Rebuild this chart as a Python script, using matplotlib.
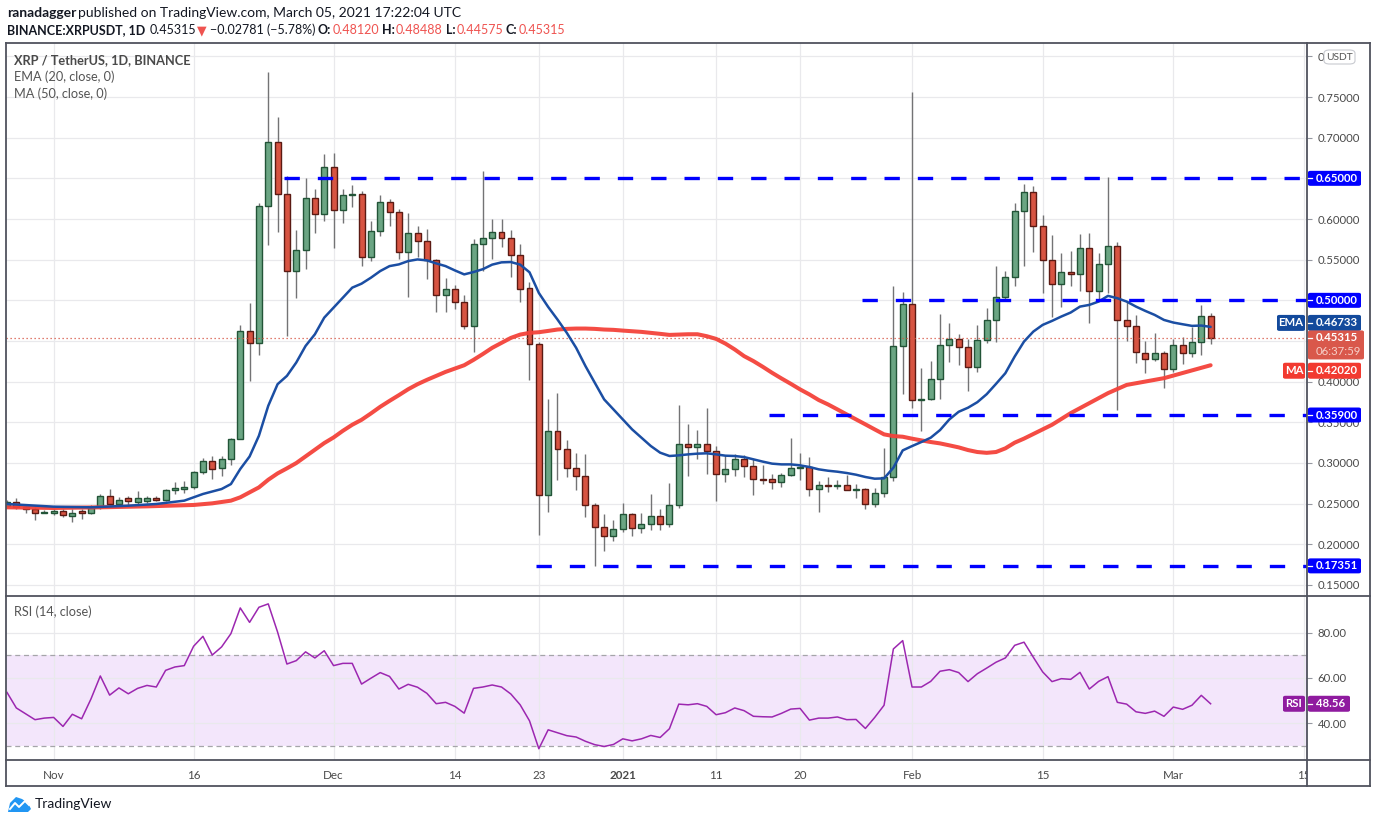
import matplotlib
matplotlib.use("Agg")
import matplotlib.pyplot as plt
from matplotlib.lines import Line2D
from matplotlib.patches import Rectangle, Polygon, FancyBboxPatch
from matplotlib.ticker import FuncFormatter
import numpy as np

plt.rcParams['font.family'] = ['Lato', 'DejaVu Sans']

# ---------------- data ----------------
opens = [0.2475, 0.2525, 0.2460, 0.2430, 0.2390, 0.2390, 0.2410, 0.2350, 0.2405, 0.2385,
         0.2455, 0.2590, 0.2490, 0.2570, 0.2516, 0.2533, 0.2565, 0.2545, 0.2665, 0.2680,
         0.2705, 0.2885, 0.3030, 0.2935, 0.3045, 0.3300, 0.4625, 0.4475, 0.6160, 0.6950,
         0.6305, 0.5364, 0.5622, 0.6260, 0.6064, 0.6640, 0.6110, 0.6297, 0.6310, 0.5536,
         0.5855, 0.6211, 0.6088, 0.5597, 0.5831, 0.5732, 0.5490, 0.5070, 0.5143, 0.4984,
         0.4689, 0.5696, 0.5766, 0.5840, 0.5766, 0.5561, 0.5152, 0.4465, 0.2603, 0.3389,
         0.3176, 0.2943, 0.2840, 0.2484, 0.2219, 0.2104, 0.2194, 0.2378, 0.2206, 0.2255,
         0.2353, 0.2255, 0.2489, 0.3237, 0.3196, 0.3237, 0.3151, 0.2869, 0.2922, 0.3053,
         0.2963, 0.2799, 0.2799, 0.2770, 0.2856, 0.2940, 0.2955, 0.2684, 0.2725, 0.2720,
         0.2733, 0.2672, 0.2684, 0.2500, 0.2635, 0.2832, 0.4437, 0.4957, 0.3780, 0.3793,
         0.4028, 0.4453, 0.4527, 0.4429, 0.4178, 0.4510, 0.4756, 0.5038, 0.5284, 0.6095,
         0.6328, 0.5918, 0.5497, 0.5198, 0.5345, 0.5320, 0.5640, 0.5112, 0.5443, 0.5665,
         0.4756, 0.4682, 0.4350, 0.4276, 0.4350, 0.4154, 0.4448, 0.4350, 0.4485, 0.48120]
highs = [0.2550, 0.2565, 0.2475, 0.2455, 0.2420, 0.2430, 0.2440, 0.2440, 0.2435, 0.2484,
         0.2620, 0.2680, 0.2580, 0.2600, 0.2655, 0.2600, 0.2590, 0.2680, 0.2770, 0.2780,
         0.2905, 0.3065, 0.3090, 0.3090, 0.3310, 0.4700, 0.4970, 0.6200, 0.7810, 0.7255,
         0.6526, 0.5870, 0.6498, 0.6375, 0.6804, 0.6817, 0.6375, 0.6424, 0.6350, 0.5970,
         0.6289, 0.6252, 0.6117, 0.6068, 0.5908, 0.5880, 0.5510, 0.5278, 0.5192, 0.5070,
         0.5757, 0.6596, 0.6000, 0.6000, 0.5868, 0.5696, 0.5230, 0.4485, 0.3782, 0.3855,
         0.3278, 0.3119, 0.3106, 0.2513, 0.2370, 0.2296, 0.2505, 0.2390, 0.2390, 0.2615,
         0.2431, 0.2750, 0.3708, 0.3475, 0.3401, 0.3679, 0.3209, 0.3102, 0.3106, 0.3094,
         0.3045, 0.2971, 0.2860, 0.2880, 0.3303, 0.3118, 0.3077, 0.2778, 0.2832, 0.2787,
         0.2848, 0.2737, 0.2690, 0.2697, 0.3180, 0.5182, 0.5108, 0.7566, 0.4169, 0.4259,
         0.4826, 0.4724, 0.4580, 0.4519, 0.4698, 0.4903, 0.5423, 0.5362, 0.6201, 0.6430,
         0.6406, 0.6050, 0.5804, 0.5583, 0.5611, 0.5816, 0.5828, 0.5579, 0.6520, 0.5718,
         0.4985, 0.4821, 0.4502, 0.4596, 0.4383, 0.4530, 0.4547, 0.4678, 0.4940, 0.48488]
lows = [0.2460, 0.2435, 0.2390, 0.2300, 0.2385, 0.2360, 0.2330, 0.2280, 0.2312, 0.2370,
        0.2440, 0.2475, 0.2475, 0.2480, 0.2480, 0.2510, 0.2530, 0.2530, 0.2615, 0.2630,
        0.2680, 0.2870, 0.2805, 0.2840, 0.2970, 0.3290, 0.4010, 0.4330, 0.5680, 0.5840,
        0.4562, 0.5025, 0.5380, 0.5827, 0.5980, 0.5642, 0.5953, 0.6150, 0.5420, 0.5483,
        0.5790, 0.5912, 0.5503, 0.5041, 0.5532, 0.5258, 0.4860, 0.4860, 0.4890, 0.4652,
        0.4366, 0.5364, 0.5510, 0.5650, 0.5287, 0.4976, 0.4015, 0.2116, 0.2399, 0.2791,
        0.2828, 0.2664, 0.2337, 0.1736, 0.1920, 0.2043, 0.2153, 0.2104, 0.2145, 0.2178,
        0.2178, 0.2219, 0.2452, 0.2840, 0.3053, 0.2869, 0.2533, 0.2771, 0.2840, 0.2828,
        0.2607, 0.2746, 0.2684, 0.2709, 0.2840, 0.2791, 0.2594, 0.2398, 0.2643, 0.2684,
        0.2672, 0.2570, 0.2431, 0.2459, 0.2586, 0.2778, 0.3851, 0.3678, 0.3393, 0.3780,
        0.3782, 0.4240, 0.4199, 0.3888, 0.4113, 0.4481, 0.4493, 0.5000, 0.5177, 0.5423,
        0.5595, 0.5087, 0.4800, 0.4923, 0.5177, 0.5120, 0.4719, 0.5014, 0.5087, 0.3646,
        0.4506, 0.4235, 0.4104, 0.4260, 0.3916, 0.4113, 0.4219, 0.4301, 0.4330, 0.44575]
closes = [0.2525, 0.2455, 0.2430, 0.2390, 0.2395, 0.2410, 0.2355, 0.2390, 0.2385, 0.2455,
          0.2590, 0.2490, 0.2540, 0.2535, 0.2575, 0.2565, 0.2545, 0.2665, 0.2690, 0.2705,
          0.2885, 0.3030, 0.2925, 0.3045, 0.3300, 0.4625, 0.4475, 0.6160, 0.6950, 0.6305,
          0.5364, 0.5622, 0.6260, 0.6064, 0.6640, 0.6110, 0.6297, 0.6305, 0.5536, 0.5855,
          0.6211, 0.6088, 0.5597, 0.5831, 0.5732, 0.5499, 0.5070, 0.5143, 0.4984, 0.4689,
          0.5696, 0.5769, 0.5840, 0.5766, 0.5561, 0.5140, 0.4465, 0.2603, 0.3389, 0.3176,
          0.2943, 0.2840, 0.2484, 0.2219, 0.2104, 0.2194, 0.2378, 0.2206, 0.2255, 0.2353,
          0.2255, 0.2489, 0.3237, 0.3196, 0.3237, 0.3151, 0.2869, 0.2930, 0.3053, 0.2963,
          0.2799, 0.2795, 0.2770, 0.2856, 0.2942, 0.2955, 0.2684, 0.2725, 0.2720, 0.2733,
          0.2672, 0.2684, 0.2500, 0.2635, 0.2832, 0.4437, 0.4957, 0.3780, 0.3793, 0.4028,
          0.4453, 0.4527, 0.4429, 0.4183, 0.4510, 0.4756, 0.5038, 0.5284, 0.6095, 0.6328,
          0.5918, 0.5497, 0.5198, 0.5345, 0.5320, 0.5640, 0.5112, 0.5443, 0.5665, 0.4756,
          0.4682, 0.4362, 0.4276, 0.4350, 0.4154, 0.4448, 0.4350, 0.4485, 0.4805, 0.45315]

ema_idx = [0, 5, 9, 13, 16, 19, 21, 23, 24, 25] + list(range(26, 130))
ema_val = [0.2496, 0.2463, 0.2455, 0.2475, 0.2496, 0.2537, 0.2619, 0.2680, 0.2741, 0.2926,
           0.3080, 0.3335, 0.3703, 0.3969, 0.4071, 0.4235, 0.4439, 0.4583, 0.4787, 0.4910,
           0.5033, 0.5156, 0.5205, 0.5278, 0.5360, 0.5421, 0.5442, 0.5483, 0.5503, 0.5491,
           0.5454, 0.5421, 0.5368, 0.5319, 0.5348, 0.5383, 0.5439, 0.5467, 0.5471, 0.5439,
           0.5345, 0.5091, 0.4919, 0.4764, 0.4600, 0.4416, 0.4191, 0.3986, 0.3782, 0.3659,
           0.3536, 0.3413, 0.3311, 0.3209, 0.3127, 0.3086, 0.3094, 0.3106, 0.3115, 0.3119,
           0.3106, 0.3090, 0.3086, 0.3073, 0.3045, 0.3017, 0.2992, 0.2983, 0.2983, 0.2971,
           0.2951, 0.2922, 0.2905, 0.2893, 0.2877, 0.2856, 0.2828, 0.2807, 0.2811, 0.2942,
           0.3155, 0.3208, 0.3258, 0.3311, 0.3405, 0.3536, 0.3630, 0.3680, 0.3748, 0.3846,
           0.3973, 0.4104, 0.4309, 0.4493, 0.4616, 0.4698, 0.4747, 0.4801, 0.4850, 0.4923,
           0.4944, 0.4985, 0.5055, 0.5026, 0.4985, 0.4923, 0.4870, 0.4821, 0.4759, 0.4727,
           0.4706, 0.4686, 0.4690, 0.46733]

ma_idx = [0, 5, 10, 15, 20, 22, 24, 25] + list(range(26, 104)) + [104, 105, 106, 107, 108, 109, 112, 114, 118, 120, 124, 129]
ma_val = [0.2455, 0.2447, 0.2455, 0.2467, 0.2484, 0.2504, 0.2537, 0.2578,
          0.2639, 0.2700, 0.2794, 0.2872, 0.2934, 0.2999, 0.3081, 0.3163, 0.3245, 0.3314,
          0.3396, 0.3470, 0.3531, 0.3609, 0.3691, 0.3764, 0.3834, 0.3907, 0.3969, 0.4022,
          0.4071, 0.4120, 0.4161, 0.4202, 0.4268, 0.4340, 0.4416, 0.4477, 0.4538, 0.4579,
          0.4600, 0.4608, 0.4624, 0.4641, 0.4649, 0.4653, 0.4653, 0.4649, 0.4641, 0.4637,
          0.4628, 0.4620, 0.4612, 0.4600, 0.4588, 0.4575, 0.4579, 0.4583, 0.4583, 0.4559,
          0.4526, 0.4468, 0.4396, 0.4314, 0.4253, 0.4183, 0.4109, 0.4040, 0.3974, 0.3905,
          0.3843, 0.3774, 0.3720, 0.3659, 0.3597, 0.3536, 0.3475, 0.3413, 0.3352, 0.3331,
          0.3323, 0.3299, 0.3278, 0.3258, 0.3241, 0.3217, 0.3192, 0.3159,
          0.3135, 0.3125, 0.3135, 0.3180, 0.3250, 0.3300, 0.3470, 0.3613, 0.3859, 0.3960,
          0.4043, 0.42020]

rsi = [53.6, 46.7, 44.1, 41.5, 42.2, 42.5, 38.5, 43.9, 41.9, 50.7,
       60.9, 52.4, 55.6, 53.0, 55.4, 56.7, 56.0, 63.4, 64.9, 65.5,
       74.1, 78.5, 70.2, 73.8, 79.7, 91.1, 84.7, 91.4, 92.9, 80.4,
       66.2, 67.7, 71.6, 68.9, 72.1, 65.5, 66.5, 66.5, 57.3, 59.9,
       62.4, 60.7, 55.1, 57.2, 55.9, 53.2, 48.6, 49.2, 47.4, 44.4,
       55.4, 56.0, 56.9, 56.0, 52.9, 48.1, 41.0, 28.6, 37.0, 35.7,
       34.4, 33.8, 31.9, 30.4, 29.6, 30.5, 33.0, 32.1, 33.0, 34.5,
       33.6, 37.5, 48.4, 48.1, 48.6, 47.4, 43.7, 44.6, 46.7, 45.5,
       43.0, 42.8, 42.7, 44.3, 46.2, 46.5, 41.3, 42.2, 42.2, 42.7,
       41.5, 41.6, 37.6, 42.5, 47.9, 72.9, 76.6, 56.0, 56.0, 58.5,
       63.0, 63.7, 62.4, 58.4, 61.9, 64.4, 67.0, 68.9, 74.5, 75.9,
       69.2, 62.7, 58.4, 59.7, 59.4, 62.5, 55.1, 58.5, 60.6, 49.2,
       48.4, 45.0, 44.3, 45.3, 43.0, 47.1, 46.1, 47.9, 52.3, 48.56]

date_tick_idx = [5, 20, 35, 48, 57, 66, 76, 85, 97, 111, 125, 139]
date_tick_labels = ['Nov', '16', 'Dec', '14', '23', '2021', '11', '20', 'Feb', '15', 'Mar', '15']
price_ticks = [0.15, 0.20, 0.25, 0.30, 0.35, 0.40, 0.45, 0.50, 0.55, 0.60, 0.65, 0.70, 0.75, 0.80]
hidden_price_labels = [0.45, 0.50, 0.65]   # covered by the boxed labels in the reference
rsi_ticks = [40, 60, 80]

level_vals = [0.65, 0.50, 0.359, 0.17351]
level_labels = ['0.65000', '0.50000', '0.35900', '0.17351']
level_start_idx = [30, 92, 82, 57]

last_price = 0.45315
last_ema = 0.46733
last_ma = 0.42020
last_rsi = 48.56

# ---------------- layout ----------------
W, H = 1376, 823
fig = plt.figure(figsize=(W / 100, H / 100), dpi=100)
fig.patch.set_facecolor('white')

L, R = 6, 1307
T1, B1 = 43, 595
T2, B2 = 596, 760
RB = 1370
BB = 786

ax1 = fig.add_axes([L / W, 1 - B1 / H, (R - L) / W, (B1 - T1) / H])
ax2 = fig.add_axes([L / W, 1 - B2 / H, (R - L) / W, (B2 - T2) / H])

XMIN, XMAX = -0.107, 139.33
ax1.set_xlim(XMIN, XMAX)
ax2.set_xlim(XMIN, XMAX)
ax1.set_ylim(0.1377, 0.8164)
ax2.set_ylim(23.6, 96.4)

grid_c = '#e9e9ec'
txt_c = '#4a4a4a'
frame_c = '#50535e'

for ax in (ax1, ax2):
    for s in ax.spines.values():
        s.set_visible(False)
    ax.set_axisbelow(True)
    ax.set_xticks(date_tick_idx)
    ax.grid(True, color=grid_c, lw=0.9)


def price_fmt(v, p):
    if any(abs(v - h) < 1e-6 for h in hidden_price_labels):
        return ''
    if abs(v - 0.80) < 1e-6:
        return '0'          # only the first glyph shows beside the USDT badge
    return f'{v:.5f}'


ax1.set_yticks(price_ticks)
ax1.yaxis.tick_right()
ax1.yaxis.set_major_formatter(FuncFormatter(price_fmt))
ax1.tick_params(axis='y', direction='out', length=3.5, width=0.8, color='#9598a1',
                labelsize=8.2, labelcolor=txt_c, pad=4)
ax1.tick_params(axis='x', length=0, labelbottom=False)

# candles
idx = np.arange(len(opens))
o = np.array(opens); c = np.array(closes); hi = np.array(highs); lo = np.array(lows)
up = c >= o
ax1.vlines(idx, lo, hi, color='#737375', lw=1.0, zorder=2)
body_w = 0.64
bottoms = np.minimum(o, c)
heights = np.maximum(np.abs(c - o), 0.0006)
ax1.bar(idx[up], heights[up], bottom=bottoms[up], width=body_w,
        color='#6ba583', edgecolor='#225437', linewidth=1.0, zorder=3)
ax1.bar(idx[~up], heights[~up], bottom=bottoms[~up], width=body_w,
        color='#d75442', edgecolor='#5b1a13', linewidth=1.0, zorder=3)

# moving averages
ax1.plot(ma_idx, ma_val, color='#f4423a', lw=2.9, zorder=4, solid_capstyle='round', alpha=0.95)
ax1.plot(ema_idx, ema_val, color='#1b4ea3', lw=1.8, zorder=5, solid_capstyle='round')

# last price dotted line
ax1.axhline(last_price, color='#d75442', lw=0.9, ls=(0, (1, 2.2)), zorder=4)

# horizontal dashed levels
for v, s in zip(level_vals, level_start_idx):
    ax1.plot([s - 0.35, XMAX], [v, v], color='#0000ff', lw=2.4, dashes=(4.6, 5.4), zorder=6,
             solid_capstyle='butt', dash_capstyle='butt')

# legend texts
fig.text(14 / W, 1 - 60 / H, 'XRP / TetherUS, 1D, BINANCE', fontsize=9.2, color='#4a4a4a',
         fontweight='bold', va='center', ha='left')
fig.text(14 / W, 1 - 77 / H, 'EMA (20, close, 0)', fontsize=9.2, color='#555555', va='center', ha='left')
fig.text(14 / W, 1 - 94 / H, 'MA (50, close, 0)', fontsize=9.2, color='#555555', va='center', ha='left')

# RSI pane
ax2.axhspan(30, 70, color='#f3e6fb', zorder=0.5, lw=0)
ax2.axhline(70, color='#a5a5a9', lw=0.9, dashes=(4, 3), zorder=1)
ax2.axhline(30, color='#a5a5a9', lw=0.9, dashes=(4, 3), zorder=1)
ax2.plot(idx, rsi, color='#9c27b0', lw=1.1, zorder=3)
ax2.set_yticks(rsi_ticks)
ax2.yaxis.tick_right()
ax2.yaxis.set_major_formatter(FuncFormatter(lambda v, p: f'{v:.2f}'))
ax2.tick_params(axis='y', direction='out', length=3.5, width=0.8, color='#9598a1',
                labelsize=8.2, labelcolor=txt_c, pad=4)
ax2.set_xticklabels(date_tick_labels)
ax2.tick_params(axis='x', length=0, pad=7, labelsize=8.4, labelcolor=txt_c)
for lab in ax2.get_xticklabels():
    if lab.get_text() == '2021':
        lab.set_fontweight('bold')
fig.text(14 / W, 1 - 612 / H, 'RSI (14, close)', fontsize=9.2, color='#555555', va='center', ha='left')

# ---------------- frame lines ----------------
def fline(x0, y0, x1, y1, color=frame_c, lw=1.3, z=30):
    fig.add_artist(Line2D([x0 / W, x1 / W], [1 - y0 / H, 1 - y1 / H], transform=fig.transFigure,
                          color=color, lw=lw, zorder=z))

fig.add_artist(Rectangle((R / W, 1 - BB / H), (RB - R) / W, (BB - B2) / H,
                         transform=fig.transFigure, fc='white', ec='none', zorder=25))
fline(L, T1, RB, T1)
fline(L, T1, L, BB)
fline(RB, T1, RB, BB)
fline(L, BB, RB, BB)
fline(R, T1, R, BB)
fline(L, B1 + 0.5, RB, B1 + 0.5)
fline(L, B2, RB, B2)

# ---------------- right-side boxed labels ----------------
def ypix(ax, v):
    return ax.transData.transform((0, v))[1]


def rbox(x0, y0, w, h, fc):
    fig.add_artist(FancyBboxPatch((x0 / W, y0 / H), w / W, h / H,
                                  boxstyle='round,pad=0,rounding_size=0.0018',
                                  transform=fig.transFigure, fc=fc, ec='none', zorder=40))


def box(x0, x1, yc, h, fc, text, tc='white', fs=8.2, bold=True, tick=False, tx=None):
    rbox(x0, yc - h / 2, x1 - x0, h, fc)
    if tick:
        fig.add_artist(Line2D([x0 / W, (x0 + 4) / W], [yc / H, yc / H], transform=fig.transFigure,
                              color='white', lw=0.9, zorder=41))
    ha = 'left'
    if tx is None:
        tx = (x0 + x1) / 2
        ha = 'center'
    fig.text(tx / W, yc / H, text, color=tc, fontsize=fs, fontweight='bold' if bold else 'normal',
             ha=ha, va='center', zorder=42)


fig.canvas.draw()
blue = '#0000ff'
for v, lab in zip(level_vals, level_labels):
    box(R + 1, 1361, ypix(ax1, v), 15, blue, lab, tick=True, tx=1316)

ye = ypix(ax1, last_ema) + 4
box(1277, 1305, ye, 16, '#134a9c', 'EMA')
box(R + 1, 1361, ye, 16, '#134a9c', f'{last_ema:.5f}', tick=True, tx=1316)

yp = ypix(ax1, last_price)
rbox(R + 1, yp - 21, 1364 - R - 1, 29, '#d9584b')
fig.text(1316 / W, (yp + 0.5) / H, f'{last_price:.5f}', color='white', fontsize=8.2,
         fontweight='bold', ha='left', va='center', zorder=42)
fig.text(1316 / W, (yp - 13.5) / H, '06:37:59', color='#f6cfc8', fontsize=8.2,
         ha='left', va='center', zorder=42)
fig.add_artist(Line2D([(R + 1) / W, (R + 5) / W], [yp / H, yp / H], transform=fig.transFigure,
                      color='white', lw=0.9, zorder=41))

ym = ypix(ax1, last_ma) - 5.5
box(1283, 1305, ym, 16, '#f23a30', 'MA')
box(R + 1, 1361, ym, 16, '#f23a30', f'{last_ma:.5f}', tick=True, tx=1316)

yr = ypix(ax2, last_rsi)
box(1283, 1305, yr, 16, '#8f1b9f', 'RSI')
box(R + 1, 1350, yr, 16, '#8f1b9f', f'{last_rsi:.2f}', tick=True, tx=1316)

# USDT badge
fig.add_artist(FancyBboxPatch((1324 / W, 1 - 64 / H), 31 / W, 14 / H,
                              boxstyle='round,pad=0,rounding_size=0.004',
                              transform=fig.transFigure, fc='white', ec='#c8cad0', lw=0.8, zorder=40))
fig.text(1339.5 / W, 1 - 57 / H, 'USDT', color='#555555', fontsize=7.4, ha='center', va='center', zorder=42)

# ---------------- header ----------------
hdr_c = '#131722'
red_c = '#ef5350'
fig.text(7 / W, 1 - 13 / H, 'ranadagger', fontsize=10, fontweight='bold', color=hdr_c, va='center')
fig.text(78 / W, 1 - 13 / H, 'published on TradingView.com, March 05, 2021 17:22:04 UTC',
         fontsize=10, color=hdr_c, va='center')

rend = fig.canvas.get_renderer()
parts = [('BINANCE:XRPUSDT, 1D', hdr_c, 'bold', 4),
         ('0.45315', hdr_c, 'normal', 1.5),
         ('▼', red_c, 'normal', 2.5),
         ('−0.02781 (−5.78%)', hdr_c, 'normal', 3),
         ('O:', hdr_c, 'bold', 1), ('0.48120', red_c, 'normal', 3),
         ('H:', hdr_c, 'bold', 1), ('0.48488', red_c, 'normal', 3),
         ('L:', hdr_c, 'bold', 1), ('0.44575', red_c, 'normal', 3),
         ('C:', hdr_c, 'bold', 1), ('0.45315', red_c, 'normal', 0)]
xh = 7.0
for s, col, wt, gap in parts:
    t = fig.text(xh / W, 1 - 30 / H, s, fontsize=9.0, fontweight=wt, color=col, va='center', ha='left')
    bb = t.get_window_extent(renderer=rend)
    xh += bb.width + gap

# ---------------- TradingView logo ----------------
pts = np.array([[8, 812], [10, 803], [16, 797], [22, 799], [28, 803], [31, 809], [28, 812]])
fig.add_artist(Polygon([(x / W, 1 - y / H) for x, y in pts], closed=True, transform=fig.transFigure,
                       fc='#2196f3', ec='none', zorder=40))
wline = np.array([[10, 809], [15, 803], [19, 807], [25, 801], [29, 805]])
fig.add_artist(Line2D(wline[:, 0] / W, 1 - wline[:, 1] / H, transform=fig.transFigure,
                      color='white', lw=1.4, zorder=41))
fig.text(35 / W, 1 - 804 / H, 'TradingView', fontsize=10, color='#131722', va='center', ha='left')

fig.savefig('out.png', dpi=100, facecolor='white')
